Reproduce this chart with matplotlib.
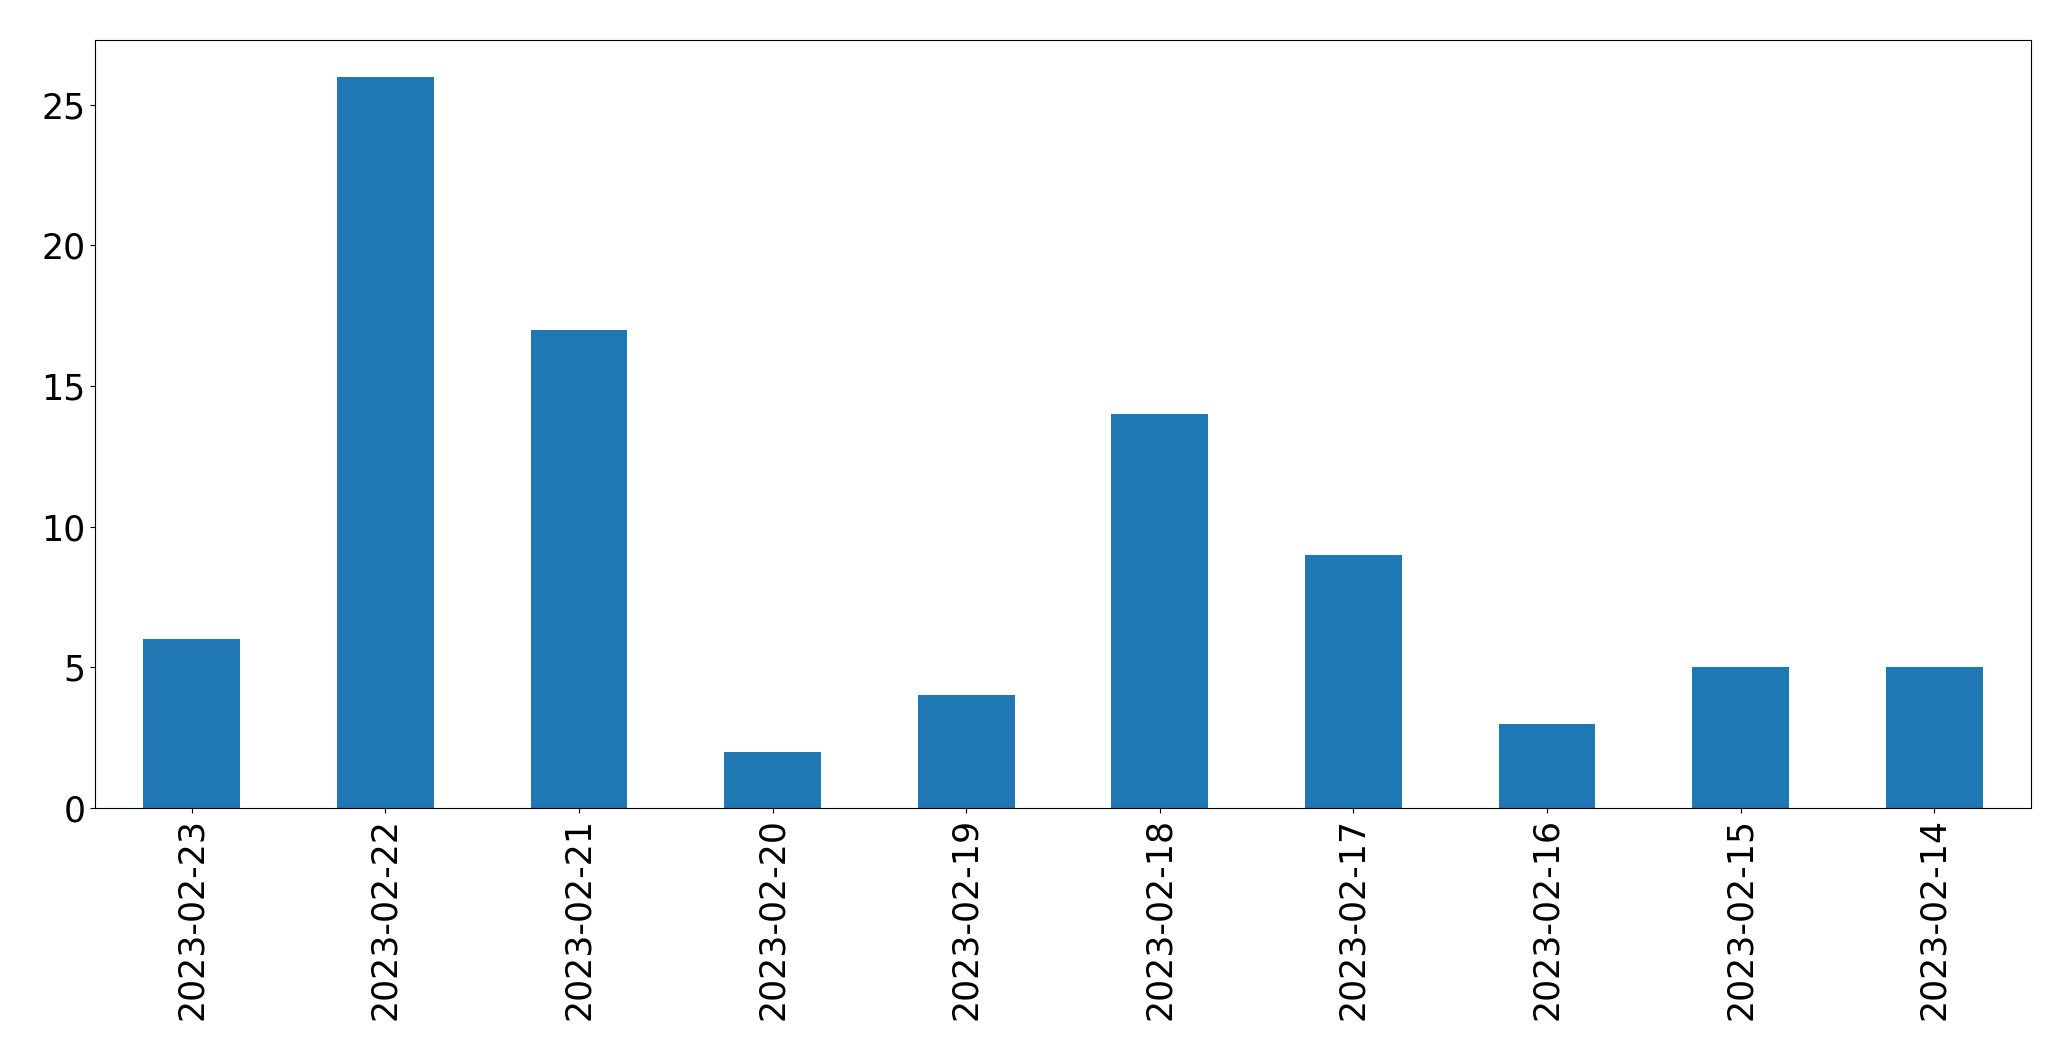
import matplotlib
matplotlib.use("Agg")
import matplotlib.pyplot as plt
import numpy as np

dates = ["2023-02-23", "2023-02-22", "2023-02-21", "2023-02-20", "2023-02-19",
         "2023-02-18", "2023-02-17", "2023-02-16", "2023-02-15", "2023-02-14"]
counts = [6, 26, 17, 2, 4, 14, 9, 3, 5, 5]

fig = plt.figure(figsize=(20.71, 10.61), dpi=100)
ax = fig.add_axes([95/2071, 1 - 808/1061, (2031-95)/2071, (808-40)/1061])
x = np.arange(len(dates))
ax.bar(x, counts, width=0.5, color="#1f77b4")
ax.set_xlim(-0.5, len(dates) - 0.5)
ax.set_ylim(0, max(counts) * 1.05)
ax.set_xticks(x)
ax.set_xticklabels(dates, rotation=90)
ax.set_yticks([0, 5, 10, 15, 20, 25])
ax.tick_params(labelsize=25)
fig.savefig("out.png", dpi=100)
